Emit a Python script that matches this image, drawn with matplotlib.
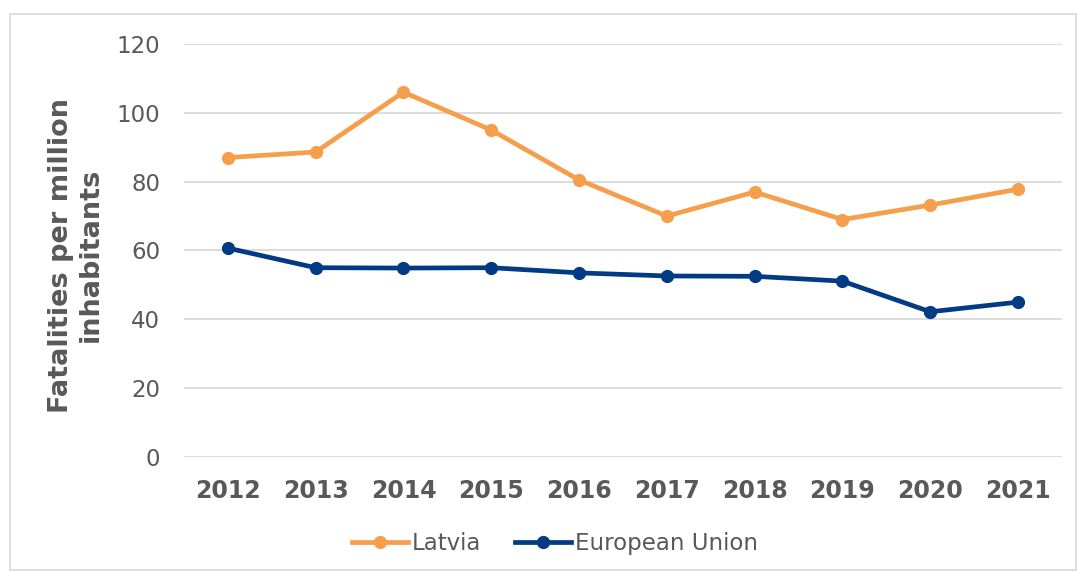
import matplotlib.pyplot as plt
from matplotlib.patches import Rectangle

years = ['2012', '2013', '2014', '2015', '2016', '2017', '2018', '2019', '2020', '2021']
latvia = [87, 88.6, 106, 95, 80.5, 70, 77, 69, 73.2, 77.8]
eu = [60.7, 55, 54.9, 55, 53.5, 52.6, 52.5, 51.1, 42.2, 45]

orange = '#F59E4C'
blue = '#003B84'
text_grey = '#595959'

fig = plt.figure(figsize=(10.77, 5.71), dpi=100)
ax = fig.add_axes([0.1708, 0.1996, 0.8152, 0.7234])

x = range(len(years))
ax.plot(x, latvia, color=orange, linewidth=3.4, marker='o', markersize=8.5, label='Latvia')
ax.plot(x, eu, color=blue, linewidth=3.4, marker='o', markersize=8.5, label='European Union')

ax.set_xlim(-0.5, len(years) - 0.5)
ax.set_ylim(0, 120)
ax.set_yticks(range(0, 121, 20))
ax.set_xticks(list(x))
ax.set_xticklabels(years, fontsize=17, fontweight='bold', color=text_grey)
ax.tick_params(axis='y', labelsize=16.5, labelcolor=text_grey, length=0, pad=17)
ax.tick_params(axis='x', length=0, pad=16)
ax.grid(True, axis='y', color='#D9D9D9', linewidth=1.3)
ax.set_axisbelow(True)
for s in ax.spines.values():
    s.set_visible(False)

fig.text(0.0706, 0.553, 'Fatalities per million\ninhabitants', rotation=90,
         ha='center', va='center', fontsize=19.5, fontweight='bold',
         color=text_grey, linespacing=1.2)

ax.legend(loc='center', bbox_to_anchor=(0.515, 0.049), bbox_transform=fig.transFigure,
          ncol=2, frameon=False, fontsize=16.5, labelcolor=text_grey,
          handlelength=2.45, handletextpad=0.15, columnspacing=1.5)

# light border round the chart
fig.patches.append(Rectangle((10 / 1077, 1 / 571), 1 - 11 / 1077, 1 - 15 / 571,
                             transform=fig.transFigure, fill=False,
                             edgecolor='#D9D9D9', linewidth=1.2))

plt.savefig('out.png', dpi=100, facecolor='white')
